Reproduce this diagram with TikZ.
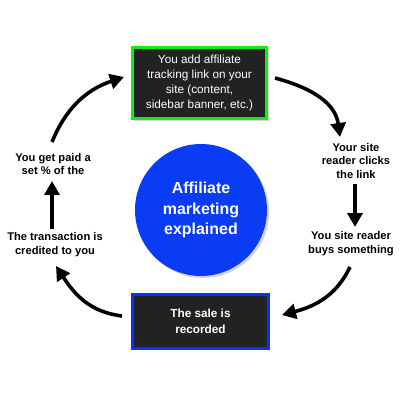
\documentclass[tikz,border=0pt]{standalone}
\usepackage{fontspec}
\setmainfont{Liberation Sans}
\usetikzlibrary{arrows.meta,shadows}
\definecolor{boxfill}{HTML}{222222}
\definecolor{boxgreen}{HTML}{11EE11}
\definecolor{boxblue}{HTML}{0A32FF}
\definecolor{circblue}{HTML}{0A3CF5}
\begin{document}
\begin{tikzpicture}[x=1bp,y=-1bp,
  darkbox/.style={rectangle, fill=boxfill, line width=3bp, text=white, align=center,
    inner sep=0pt, drop shadow={shadow xshift=2bp, shadow yshift=-2bp, opacity=0.35}},
  lbl/.style={align=center, font=\bfseries\fontsize{11.2}{14}\selectfont, inner sep=0pt},
  flow/.style={line width=3.6bp, -{Triangle[length=14bp,width=15bp]}}]
\useasboundingbox (0,0) rectangle (400,400);
\node[darkbox, draw=boxgreen, minimum width=134bp, minimum height=71bp,
  font=\fontsize{11.8}{15.2}\selectfont] (top) at (199.5,83)
  {You add affiliate\\tracking link on your\\site (content,\\sidebar banner, etc.)};
\node[darkbox, draw=boxblue, minimum width=135bp, minimum height=54bp,
  font=\bfseries\fontsize{11.8}{16}\selectfont] (bot) at (200.5,321)
  {The sale is\\recorded};
\node[circle, fill=circblue, minimum size=132bp, inner sep=0pt, text=white,
  align=center, font=\bfseries\fontsize{16}{20.5}\selectfont,
  drop shadow={shadow xshift=2bp, shadow yshift=-2bp, opacity=0.35}] (hub) at (201,210)
  {Affiliate\\marketing\\explained};
\node[lbl] (clicks) at (356,161) {Your site\\reader clicks\\the link};
\node[lbl] (buys) at (351,244) {You site reader\\buys something};
\node[lbl] (paid) at (53,164) {You get paid a\\set \% of the};
\node[lbl] (credit) at (55,245) {The transaction is\\credited to you};
\coordinate (a1s) at (275,78);
\coordinate (a1e) at (340,137);
\coordinate (a2s) at (355,184);
\coordinate (a2e) at (355,227);
\coordinate (a3s) at (350,267);
\coordinate (a3e) at (282,315);
\coordinate (a4s) at (122,316);
\coordinate (a4e) at (56,266);
\coordinate (a5s) at (52,229);
\coordinate (a5e) at (52,181);
\coordinate (a6s) at (52,142);
\coordinate (a6e) at (124,77);
\draw[flow] (a1s) .. controls (305,86) and (335,100) .. (a1e);
\draw[flow] (a2s) -- (a2e);
\draw[flow] (a3s) .. controls (338,292) and (320,305) .. (a3e);
\draw[flow] (a4s) .. controls (90,312) and (75,295) .. (a4e);
\draw[flow] (a5s) -- (a5e);
\draw[flow] (a6s) .. controls (65,110) and (85,90) .. (a6e);
\end{tikzpicture}
\end{document}
